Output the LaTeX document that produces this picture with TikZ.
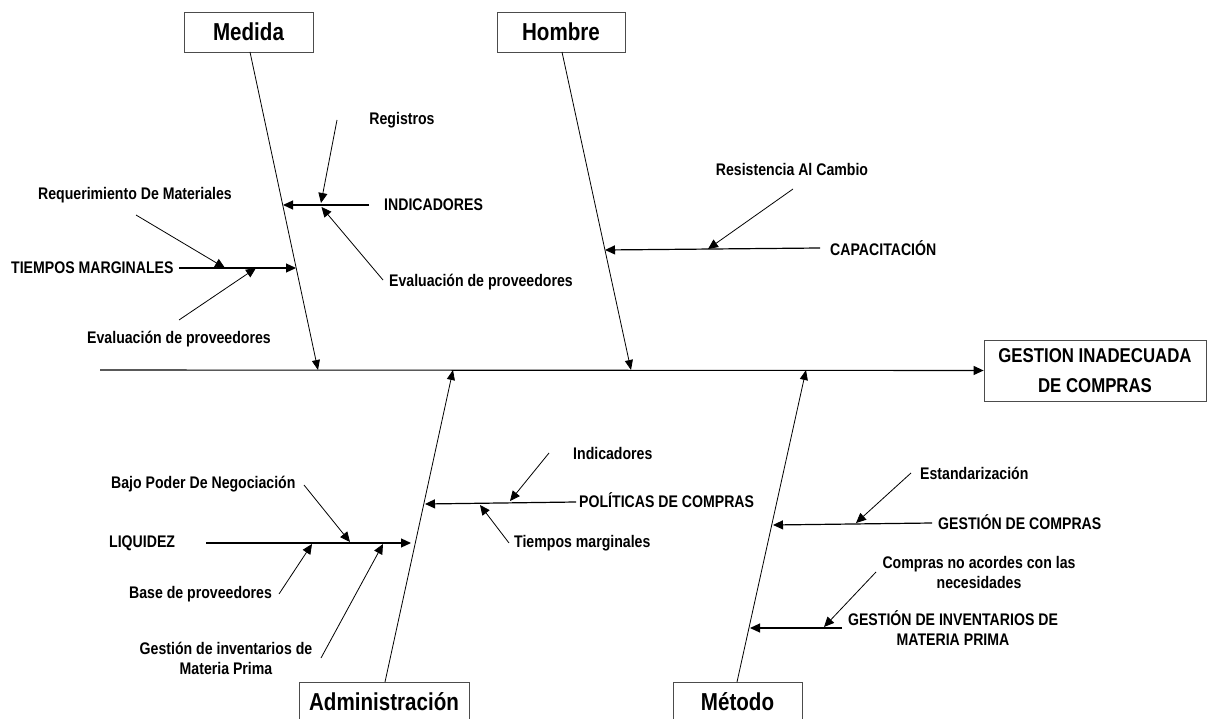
\documentclass[tikz,border=0pt]{standalone}
\usepackage{fontspec}
\newfontfamily\labfont{Liberation Sans}[FakeStretch=0.84]
\usetikzlibrary{arrows.meta}
\begin{document}
\begin{tikzpicture}[x=1pt,y=-1pt,
  lab/.style={font=\labfont\bfseries\fontsize{16.8}{20}\selectfont,inner sep=0pt},
  lab2/.style={lab,align=center},
  titlebox/.style={draw=black!70,line width=0.8pt,minimum width=129pt,minimum height=40pt,inner sep=0pt,
    font=\labfont\bfseries\fontsize{24.5}{28}\selectfont},
  effectbox/.style={draw=black!70,line width=0.8pt,minimum width=222pt,minimum height=61pt,inner sep=0pt,align=center,
    font=\labfont\bfseries\fontsize{20}{30}\selectfont},
  spine/.style={line width=0.8pt,-{Triangle[length=10pt,width=8pt]}},
  branch/.style={line width=1.2pt,-{Triangle[length=10pt,width=9pt]}},
  sub/.style={line width=0.8pt,-{Triangle[length=10pt,width=9pt]}}]
\useasboundingbox (0,0) rectangle (1207,719);

% boxes
\node[titlebox] (medida) at (248.5,32) {Medida};
\node[titlebox,minimum width=128pt] (hombre) at (561,32) {Hombre};
\node[titlebox,minimum width=170pt] (admin) at (384,702) {Administración};
\node[titlebox] (metodo) at (737.5,702) {Método};
\node[effectbox] (effect) at (1095,370.5) {GESTION INADECUADA\\DE COMPRAS};

% main axis
\coordinate (tail) at (100,370);
\draw[line width=1.1pt,-{Triangle[length=10pt,width=9pt]}] (tail) -- (effect.west);

% spines
\coordinate (ms0) at (250,52);   \coordinate (ms1) at (318,370);
\coordinate (hs0) at (562,52);   \coordinate (hs1) at (631,370);
\coordinate (as0) at (385,682);  \coordinate (as1) at (453,370);
\coordinate (ts0) at (737,682);  \coordinate (ts1) at (806,370);
\draw[spine] (ms0) -- (ms1);
\draw[spine] (hs0) -- (hs1);
\draw[spine] (as0) -- (as1);
\draw[spine] (ts0) -- (ts1);

% ---- Medida
\node[lab] (registros) at (402,120) {Registros};
\node[lab,anchor=west] (indic) at (384,205) {INDICADORES};
\node[lab,anchor=west] (evalu) at (389,282) {Evaluación de proveedores};
\node[lab] (reqmat) at (135,195) {Requerimiento De Materiales};
\node[lab,anchor=west] (tiempos) at (11,268) {TIEMPOS MARGINALES};
\node[lab] (evall) at (179,339) {Evaluación de proveedores};

\coordinate (i0) at (369,205); \coordinate (i1) at (283,205);
\coordinate (r0) at (337,120); \coordinate (r1) at (321,203);
\coordinate (e0) at (383,280); \coordinate (e1) at (321.5,207);
\coordinate (t0) at (179,268); \coordinate (t1) at (296,268);
\coordinate (q0) at (136,215); \coordinate (q1) at (225,268);
\coordinate (f0) at (179,320); \coordinate (f1) at (256,268);
\draw[branch] (i0) -- (i1);
\draw[sub] (r0) -- (r1);
\draw[sub] (e0) -- (e1);
\draw[branch] (t0) -- (t1);
\draw[sub] (q0) -- (q1);
\draw[sub] (f0) -- (f1);

% ---- Hombre
\node[lab] (resist) at (792,169) {Resistencia Al Cambio};
\node[lab,anchor=west] (capac) at (830,248) {CAPACITACIÓN};
\coordinate (c0) at (820,248); \coordinate (c1) at (605,250);
\coordinate (s0) at (793,189); \coordinate (s1) at (708,249);
\draw[branch] (c0) -- (c1);
\draw[sub] (s0) -- (s1);

% ---- Administración
\node[lab,anchor=west] (indA) at (573,453) {Indicadores};
\node[lab,anchor=west] (polit) at (579,500) {POLÍTICAS DE COMPRAS};
\node[lab,anchor=west] (tiemA) at (514,543) {Tiempos marginales};
\node[lab,anchor=west] (bajo) at (111,484) {Bajo Poder De Negociación};
\node[lab,anchor=west] (liq) at (109,543) {LIQUIDEZ};
\node[lab,anchor=west] (base) at (129,594) {Base de proveedores};
\node[lab2] (gestinv) at (226,658) {Gestión de inventarios de\\Materia Prima};

\coordinate (p0) at (576,502); \coordinate (p1) at (425,504);
\coordinate (a0) at (549,453); \coordinate (a1) at (510,501);
\coordinate (b0) at (509,543); \coordinate (b1) at (480,505);
\coordinate (l0) at (206,543); \coordinate (l1) at (411,543);
\coordinate (n0) at (304,485); \coordinate (n1) at (350,542);
\coordinate (v0) at (279,594); \coordinate (v1) at (312,544);
\coordinate (g0) at (321,658); \coordinate (g1) at (383,544);
\draw[branch] (p0) -- (p1);
\draw[sub] (a0) -- (a1);
\draw[sub] (b0) -- (b1);
\draw[branch] (l0) -- (l1);
\draw[sub] (n0) -- (n1);
\draw[sub] (v0) -- (v1);
\draw[sub] (g0) -- (g1);

% ---- Método
\node[lab,anchor=west] (estand) at (920,473) {Estandarización};
\node[lab,anchor=west] (gcomp) at (938,522) {GESTIÓN DE COMPRAS};
\node[lab2] (cnoac) at (979,572) {Compras no acordes con las\\necesidades};
\node[lab2] (ginvm) at (953,628) {GESTIÓN DE INVENTARIOS DE\\MATERIA PRIMA};

\coordinate (gc0) at (932,523); \coordinate (gc1) at (773,525);
\coordinate (es0) at (911,473); \coordinate (es1) at (856,523);
\coordinate (gi0) at (842,628); \coordinate (gi1) at (750,628);
\coordinate (cn0) at (876,572); \coordinate (cn1) at (824,627);
\draw[branch] (gc0) -- (gc1);
\draw[sub] (es0) -- (es1);
\draw[branch] (gi0) -- (gi1);
\draw[sub] (cn0) -- (cn1);
\end{tikzpicture}
\end{document}
